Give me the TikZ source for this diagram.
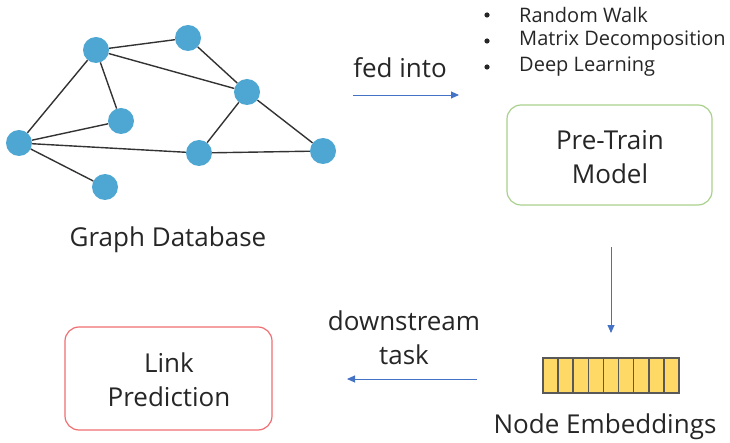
\documentclass[tikz,border=0pt]{standalone}
\usepackage{fontspec}
\setmainfont{Open Sans}
\usetikzlibrary{arrows.meta}
\definecolor{nodeblue}{RGB}{78,166,210}
\definecolor{arrowblue}{RGB}{68,114,196}
\definecolor{boxgreen}{RGB}{169,209,142}
\definecolor{boxred}{RGB}{240,110,115}
\definecolor{embyellow}{RGB}{255,217,102}
\definecolor{txt}{RGB}{38,38,38}
\tikzset{
  gnode/.style={circle,fill=nodeblue,minimum size=26pt,inner sep=0pt},
  gedge/.style={draw=black!80,line width=1.4pt},
  flow/.style={draw=arrowblue,line width=0.9pt,-{Triangle[length=8pt,width=7pt]}},
  lbl/.style={text=txt,font=\fontsize{26}{31}\selectfont,align=center,inner sep=0pt},
  small/.style={text=txt,font=\fontsize{20}{24}\selectfont,anchor=west,inner sep=0pt},
  rbox/.style={rounded corners=14pt,line width=1.2pt},
  cell/.style={draw=black!65,fill=embyellow,line width=1.6pt,minimum width=15.1pt,minimum height=35pt,inner sep=0pt}
}
\begin{document}
\begin{tikzpicture}[x=1pt,y=-1pt]
\useasboundingbox (0,0) rectangle (730,443);
% graph
\node[gnode] (A) at (96,50) {};
\node[gnode] (B) at (188,38) {};
\node[gnode] (C) at (247,92) {};
\node[gnode] (D) at (121,121) {};
\node[gnode] (E) at (19,143) {};
\node[gnode] (F) at (199,153) {};
\node[gnode] (G) at (323,151) {};
\node[gnode] (H) at (105,187) {};
\foreach \a/\b in {A/B,A/C,A/E,A/D,B/C,C/F,C/G,E/D,E/F,E/H,F/G}
  \draw[gedge] (\a) -- (\b);
\node[lbl] (gdb) at (168,240) {Graph Database};
% fed into
\node[lbl] (fed) at (400,68) {fed into};
\coordinate (f1) at (353,95);
\coordinate (f2) at (459,95);
\draw[flow] (f1) -- (f2);
% bullets
\node[small] (b1) at (519,15) {Random Walk};
\node[small] (b2) at (519,41) {Matrix Decomposition};
\node[small] (b3) at (519,67) {Deep Learning};
\foreach \y in {15,41,67} \fill[txt] (487,\y) circle (2.6pt);
% pretrain box
\draw[rbox,draw=boxgreen] (507,105) rectangle (712,205);
\node[lbl] (pt) at (610,157) {Pre-Train\\[3pt]Model};
% down arrow
\coordinate (d1) at (611,247);
\coordinate (d2) at (611,333);
\draw[flow] (d1) -- (d2);
% embeddings
\foreach \i in {0,...,8}
  \node[cell] (c\i) at ({543+15.1*\i+7.55},375.5) {};
\node[lbl] (ne) at (605,427) {Node Embeddings};
% link prediction
\draw[rbox,draw=boxred] (65,327) rectangle (272,430);
\node[lbl] (lp) at (169,380) {Link\\[3pt]Prediction};
\node[lbl] (ds) at (404,338) {downstream\\[3pt]task};
\coordinate (l1) at (477,379);
\coordinate (l2) at (347,379);
\draw[flow] (l1) -- (l2);
\end{tikzpicture}
\end{document}
